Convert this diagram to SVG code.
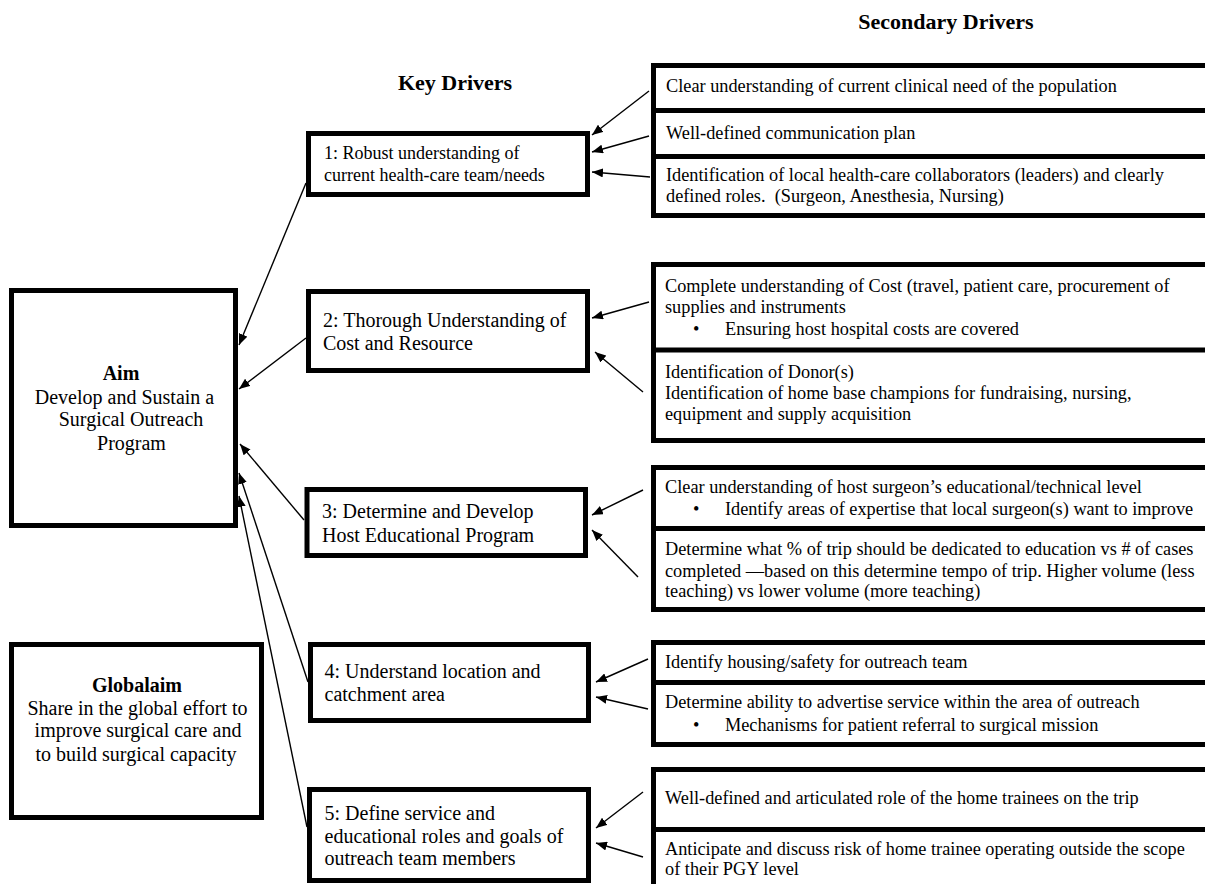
<svg xmlns="http://www.w3.org/2000/svg" width="1205" height="884" viewBox="0 0 1205 884">
<style>
text{font-family:"Liberation Serif","Times New Roman",serif;font-size:18.3px;fill:#000;white-space:pre}
.h{font-weight:bold;font-size:22px;text-anchor:middle}
.b{font-weight:bold}
.c{text-anchor:middle}
.k{font-size:20px}
.k1{font-size:18px}
.box{fill:#fff;stroke:#000;stroke-width:5}
.div{stroke:#000;stroke-width:5}
.con line{stroke:#000;stroke-width:1.4;marker-end:url(#ah)}
</style>
<defs>
<marker id="ah" markerUnits="userSpaceOnUse" markerWidth="11" markerHeight="9" refX="11" refY="4.5" orient="auto">
<path d="M0,0 L11,4.5 L0,9 z" fill="#000"/>
</marker>
</defs>
<rect width="1205" height="884" fill="#fff"/>

<g id="titles">
<text class="h" x="455" y="90">Key Drivers</text>
<text class="h" x="946" y="29">Secondary Drivers</text>
</g>

<g id="aim">
<rect class="box" x="11.5" y="290.5" width="224" height="235"/>
<text class="c b k" x="121" y="380">Aim</text>
<text class="c k" x="124.5" y="404">Develop and Sustain a</text>
<text class="c k" x="131" y="426">Surgical Outreach</text>
<text class="c k" x="131.5" y="450">Program</text>
</g>

<g id="globalaim">
<rect class="box" x="11.5" y="644.5" width="250" height="173"/>
<text class="c b k" x="137" y="692">Globalaim</text>
<text class="c k" x="137.5" y="715">Share in the global effort to</text>
<text class="c k" x="138" y="737">improve surgical care and</text>
<text class="c k" x="136" y="761">to build surgical capacity</text>
</g>

<g id="key1">
<rect class="box" x="308.5" y="133.5" width="279" height="61"/>
<text class="k1" x="324" y="159">1: Robust understanding of</text>
<text class="k1" x="324" y="181">current health-care team/needs</text>
</g>
<g id="key2">
<rect class="box" x="308.5" y="291.5" width="279" height="79"/>
<text class="k" x="323" y="327">2: Thorough Understanding of</text>
<text class="k" x="323" y="350">Cost and Resource</text>
</g>
<g id="key3">
<rect class="box" x="307" y="489.5" width="278.5" height="66"/>
<text class="k" x="322" y="518">3: Determine and Develop</text>
<text class="k" x="322" y="542">Host Educational Program</text>
</g>
<g id="key4">
<rect class="box" x="310.5" y="644.5" width="278" height="76"/>
<text class="k" x="324.5" y="678">4: Understand location and</text>
<text class="k" x="324.5" y="701">catchment area</text>
</g>
<g id="key5">
<rect class="box" x="309.5" y="789.5" width="279" height="91"/>
<text class="k" x="324.5" y="820">5: Define service and</text>
<text class="k" x="324.5" y="843">educational roles and goals of</text>
<text class="k" x="324.5" y="865">outreach team members</text>
</g>

<g id="sec1">
<rect class="box" x="653.5" y="65.5" width="560" height="150"/>
<line class="div" x1="653.5" y1="110.5" x2="1210" y2="110.5"/>
<line class="div" x1="653.5" y1="156.5" x2="1210" y2="156.5"/>
<text x="666" y="92">Clear understanding of current clinical need of the population</text>
<text x="666" y="139">Well-defined communication plan</text>
<text x="666" y="181">Identification of local health-care collaborators (leaders) and clearly</text>
<text x="666" y="202">defined roles.  (Surgeon, Anesthesia, Nursing)</text>
</g>

<g id="sec2">
<rect class="box" x="653.5" y="264.5" width="560" height="176"/>
<line class="div" x1="653.5" y1="350" x2="1210" y2="350"/>
<text x="665" y="292">Complete understanding of Cost (travel, patient care, procurement of</text>
<text x="665" y="313">supplies and instruments</text>
<text x="693" y="335">•</text>
<text x="725" y="335">Ensuring host hospital costs are covered</text>
<text x="665" y="378">Identification of Donor(s)</text>
<text x="665" y="399">Identification of home base champions for fundraising, nursing,</text>
<text x="665" y="420">equipment and supply acquisition</text>
</g>

<g id="sec3">
<rect class="box" x="653.5" y="467.5" width="560" height="142"/>
<line class="div" x1="653.5" y1="528.5" x2="1210" y2="528.5"/>
<text x="665" y="493">Clear understanding of host surgeon’s educational/technical level</text>
<text x="693" y="515">•</text>
<text x="725" y="515">Identify areas of expertise that local surgeon(s) want to improve</text>
<text x="665" y="555">Determine what % of trip should be dedicated to education vs # of cases</text>
<text x="665" y="577">completed —based on this determine tempo of trip. Higher volume (less</text>
<text x="665" y="597">teaching) vs lower volume (more teaching)</text>
</g>

<g id="sec4">
<rect class="box" x="653.5" y="642.5" width="560" height="102"/>
<line class="div" x1="653.5" y1="682.5" x2="1210" y2="682.5"/>
<text x="665" y="668">Identify housing/safety for outreach team</text>
<text x="665" y="708">Determine ability to advertise service within the area of outreach</text>
<text x="693" y="731">•</text>
<text x="725" y="731">Mechanisms for patient referral to surgical mission</text>
</g>

<g id="sec5">
<rect class="box" x="653.5" y="769.5" width="560" height="130"/>
<line class="div" x1="653.5" y1="829.5" x2="1210" y2="829.5"/>
<text x="665" y="804">Well-defined and articulated role of the home trainees on the trip</text>
<text x="665" y="855">Anticipate and discuss risk of home trainee operating outside the scope</text>
<text x="665" y="875">of their PGY level</text>
</g>

<g id="connectors" class="con">
<line x1="649" y1="91" x2="592" y2="135"/>
<line x1="649" y1="136" x2="592" y2="152"/>
<line x1="650" y1="177" x2="592" y2="172"/>
<line x1="649" y1="302" x2="592" y2="318"/>
<line x1="643" y1="392" x2="595" y2="352"/>
<line x1="643" y1="490" x2="592" y2="515"/>
<line x1="638" y1="577" x2="592" y2="530"/>
<line x1="648" y1="659" x2="596" y2="682"/>
<line x1="648" y1="709" x2="596" y2="697"/>
<line x1="643" y1="792" x2="596" y2="828"/>
<line x1="643" y1="857" x2="596" y2="843"/>
<line x1="306" y1="183" x2="239" y2="345"/>
<line x1="306" y1="338" x2="239" y2="389"/>
<line x1="304" y1="520" x2="240" y2="444"/>
<line x1="308" y1="682" x2="239" y2="473"/>
<line x1="307" y1="827" x2="239" y2="496"/>
</g>
</svg>
